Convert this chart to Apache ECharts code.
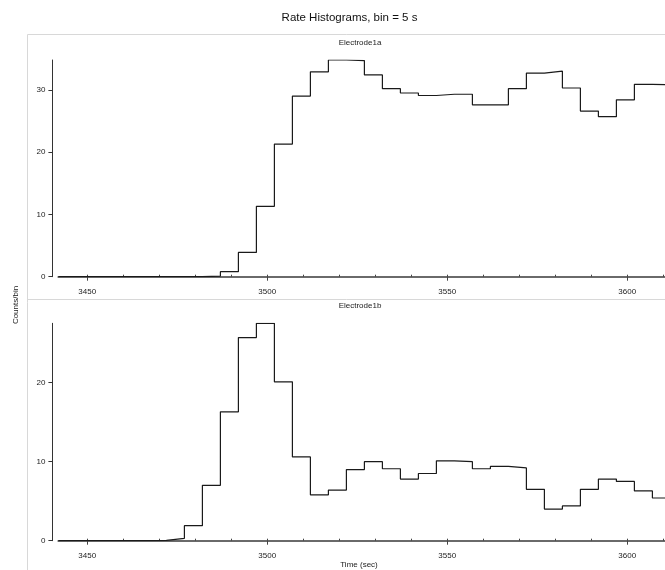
<!DOCTYPE html>
<html>
<head>
<meta charset="utf-8">
<script src="https://cdn.jsdelivr.net/npm/echarts@6/dist/echarts.min.js"></script>
<style>
  html, body { margin: 0; padding: 0; background: #fff; }
  #chart { width: 665px; height: 570px; }
</style>
</head>
<body>
<div id="chart"></div>
<script>
// ---- data ----
const chartTitle = 'Rate Histograms, bin = 5 s';
const panelNames = ['Electrode1a', 'Electrode1b'];
const yAxisName = 'Counts/bin';
const xAxisName = 'Time (sec)';
const binWidth = 5;
const binStarts = [3442, 3447, 3452, 3457, 3462, 3467, 3472, 3477, 3482, 3487,
                   3492, 3497, 3502, 3507, 3512, 3517, 3522, 3527, 3532, 3537,
                   3542, 3547, 3552, 3557, 3562, 3567, 3572, 3577, 3582, 3587,
                   3592, 3597, 3602, 3607];
const electrode1a = [0, 0, 0, 0, 0, 0, 0, 0, 0.1, 0.8,
                     3.9, 11.3, 21.3, 29.0, 32.9, 34.8, 34.7, 32.4, 30.2, 29.5,
                     29.1, 29.3, 29.3, 27.6, 27.6, 30.2, 32.7, 33.0, 30.3, 26.6,
                     25.7, 28.4, 30.9, 30.8];
const electrode1b = [0, 0, 0, 0, 0, 0.05, 0.3, 1.9, 7.0, 16.3,
                     25.7, 27.5, 20.1, 10.6, 5.8, 6.4, 9.0, 10.0, 9.1, 7.8,
                     8.5, 10.1, 10.0, 9.1, 9.4, 9.2, 6.5, 4.0, 4.4, 6.5,
                     7.8, 7.5, 6.3, 5.4];
const xMajorTicks = [3450, 3500, 3550, 3600];
const xMinorTicks = [3450, 3460, 3470, 3480, 3490, 3500, 3510, 3520, 3530, 3540,
                     3550, 3560, 3570, 3580, 3590, 3600, 3610];
const yMajorTicksA = [0, 10, 20, 30];
const yMinorTicksA = [0, 2, 4, 6, 8, 10, 12, 14, 16, 18, 20, 22, 24, 26, 28, 30, 32, 34];
const yMajorTicksB = [0, 10, 20];
const yMinorTicksB = [0, 2, 4, 6, 8, 10, 12, 14, 16, 18, 20, 22, 24, 26];
const xRange = [3442, 3610.5];
const yMaxA = 34.8;
const yMaxB = 27.5;

// ---- build ----
function stepData(vals) {
  const d = binStarts.map((x, i) => [x, vals[i]]);
  d.push([binStarts[binStarts.length - 1] + binWidth, vals[vals.length - 1]]);
  return d;
}

const FONT = 'Liberation Sans, Arial, sans-serif';
const chart = echarts.init(document.getElementById('chart'), null, { renderer: 'canvas' });

const gridL = 58.4, gridW = 606.6;
const grids = [
  { left: gridL, top: 60, width: gridW, height: 216.7 },
  { left: gridL, top: 323.3, width: gridW, height: 217.4 }
];

const plain = v => String(v);
const xAxes = [], yAxes = [];
[0, 1].forEach(g => {
  xAxes.push({
    type: 'value', gridIndex: g, min: xRange[0], max: xRange[1], offset: 5,
    axisLine: { show: true, lineStyle: { color: '#6a6a6a', width: 2 } },
    axisTick: { show: true, length: 4, customValues: xMajorTicks, lineStyle: { color: '#444', width: 1 } },
    axisLabel: { show: true, customValues: xMajorTicks, formatter: plain, margin: 6, fontSize: 8, color: '#222', fontFamily: FONT },
    splitLine: { show: false }
  });
  xAxes.push({
    type: 'value', gridIndex: g, min: xRange[0], max: xRange[1], offset: 5,
    axisLine: { show: false },
    axisTick: { show: true, length: 2, customValues: xMinorTicks, lineStyle: { color: '#444', width: 1 } },
    axisLabel: { show: false },
    splitLine: { show: false }
  });
  const yMax = g === 0 ? yMaxA : yMaxB;
  const maj = g === 0 ? yMajorTicksA : yMajorTicksB;
  const mnr = g === 0 ? yMinorTicksA : yMinorTicksB;
  yAxes.push({
    type: 'value', gridIndex: g, min: 0, max: yMax, offset: 6,
    axisLine: { show: true, lineStyle: { color: '#333', width: 1 } },
    axisTick: { show: true, length: 4, customValues: maj, lineStyle: { color: '#333', width: 1 } },
    axisLabel: { show: true, customValues: maj, formatter: plain, margin: 7, fontSize: 8, color: '#222', fontFamily: FONT },
    splitLine: { show: false }
  });
  yAxes.push({
    type: 'value', gridIndex: g, min: 0, max: yMax, offset: 6,
    axisLine: { show: false },
    axisTick: { show: true, length: 2, customValues: mnr, lineStyle: { color: '#333', width: 1 } },
    axisLabel: { show: false },
    splitLine: { show: false }
  });
});

const lineStyle = { color: '#1a1a1a', width: 1.2 };

const option = {
  backgroundColor: '#ffffff',
  animation: false,
  grid: grids,
  xAxis: xAxes,
  yAxis: yAxes,
  series: [
    { type: 'line', name: panelNames[0], xAxisIndex: 0, yAxisIndex: 0, step: 'end',
      data: stepData(electrode1a), showSymbol: false, symbol: 'none', lineStyle: lineStyle, clip: true },
    { type: 'line', name: panelNames[1], xAxisIndex: 2, yAxisIndex: 2, step: 'end',
      data: stepData(electrode1b), showSymbol: false, symbol: 'none', lineStyle: lineStyle, clip: true }
  ],
  graphic: [
    { type: 'line', shape: { x1: 27.5, y1: 34.5, x2: 665, y2: 34.5 }, style: { stroke: '#d8d8d8', lineWidth: 1 } },
    { type: 'line', shape: { x1: 27.5, y1: 34.5, x2: 27.5, y2: 570 }, style: { stroke: '#d8d8d8', lineWidth: 1 } },
    { type: 'line', shape: { x1: 27.5, y1: 299.5, x2: 665, y2: 299.5 }, style: { stroke: '#d8d8d8', lineWidth: 1 } },
    { type: 'text', x: 349.5, y: 17.5, style: { text: chartTitle, fontSize: 11.5, fontFamily: FONT, fill: '#111', textAlign: 'center', textVerticalAlign: 'middle' } },
    { type: 'text', x: 360, y: 42.5, style: { text: panelNames[0], fontSize: 8, fontFamily: FONT, fill: '#222', textAlign: 'center', textVerticalAlign: 'middle' } },
    { type: 'text', x: 360, y: 306, style: { text: panelNames[1], fontSize: 8, fontFamily: FONT, fill: '#222', textAlign: 'center', textVerticalAlign: 'middle' } },
    { type: 'text', x: 359, y: 564.5, style: { text: xAxisName, fontSize: 8, fontFamily: FONT, fill: '#222', textAlign: 'center', textVerticalAlign: 'middle' } },
    { type: 'text', x: 16, y: 305, rotation: Math.PI / 2, style: { text: yAxisName, fontSize: 8, fontFamily: FONT, fill: '#222', textAlign: 'center', textVerticalAlign: 'middle' } }
  ]
};
chart.setOption(option);
</script>
</body>
</html>
